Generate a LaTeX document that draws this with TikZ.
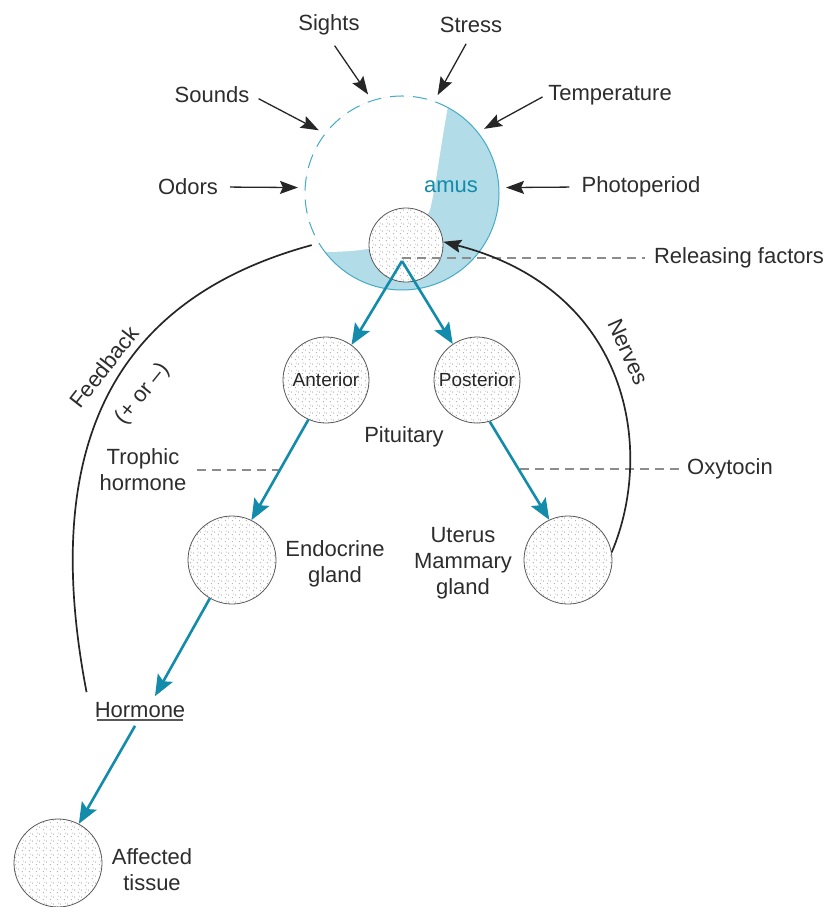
\documentclass[tikz,border=0pt]{standalone}
\usepackage{fontspec}
\setmainfont{Liberation Sans}
\usetikzlibrary{arrows.meta,patterns,patterns.meta,calc}
\definecolor{arrowblue}{RGB}{18,140,170}
\definecolor{crescent}{RGB}{178,220,231}
\definecolor{hypline}{RGB}{70,172,198}
\definecolor{txt}{RGB}{45,45,45}
\tikzdeclarepattern{
  name=stip,
  type=uncolored,
  bottom left={(0pt,0pt)},
  top right={(7pt,7pt)},
  tile size={(7pt,7pt)},
  code={
    \fill (1.5pt,1.5pt) circle (0.65pt);
    \fill (5pt,4.5pt) circle (0.65pt);
    \fill (2.5pt,5.5pt) circle (0.5pt);
  }
}
\begin{document}
\begin{tikzpicture}[x=1pt,y=-1pt,
 lbl/.style={font=\fontsize{22}{26}\selectfont, text=txt, align=center, inner sep=2pt},
 small/.style={font=\fontsize{19}{22}\selectfont, text=black!85},
 gland/.style={circle, draw=black!65, line width=0.8pt, preaction={fill=white}, pattern=stip, pattern color=black!40, minimum size=#1, inner sep=0pt},
 barrow/.style={-{Stealth[length=18pt,width=13pt,inset=3pt]}, line width=1.3pt, black!85},
 carrow/.style={-{Stealth[length=21pt,width=17pt,inset=4pt]}, line width=2.6pt, arrowblue},
 dashline/.style={black!45, line width=1.2pt, dash pattern=on 9pt off 6pt},
 curve/.style={line width=1.7pt, black!85},
]
\useasboundingbox (0,0) rectangle (828,907);
\fill[white] (0,0) rectangle (828,907);

% hypothalamus
\node[circle, minimum size=208pt, inner sep=0pt] (hyp) at (402,193) {};
\begin{scope}
\clip (402,193) circle (97pt);
\fill[crescent] (402,193) circle (97pt);
\fill[white] (452,80) -- (448,106) .. controls (440,150) and (436,185) .. (430,210)
  .. controls (412,245) and (372,252) .. (322,252) -- (290,252) -- (290,80) -- cycle;
\end{scope}
\draw[hypline, line width=1pt, dash pattern=on 14pt off 9pt] (hyp.center) ++(61.6:97pt) arc[start angle=61.6, end angle=217.5, radius=97pt];
\draw[hypline, line width=1pt] (hyp.center) ++(217.5:97pt) arc[start angle=217.5, end angle=421.6, radius=97pt];
\node[lbl, text=arrowblue] (amus) at (451,187) {amus};
\node[gland=74pt] (pit) at (406,245) {};
\coordinate (apex) at (402,261);

% glands
\node[gland=86pt, small] (ant) at (326,380) {Anterior};
\node[gland=86pt, small] (post) at (477,380) {Posterior};
\node[gland=88pt] (endo) at (232,560) {};
\node[gland=88pt] (ut) at (568,560) {};
\node[gland=88pt] (aff) at (58,863) {};

% labels
\node[lbl] (sights) at (329,25) {Sights};
\node[lbl] (stress) at (471,25) {Stress};
\node[lbl] (sounds) at (212,95) {Sounds};
\node[lbl] (temp) at (610,95) {Temperature};
\node[lbl] (odors) at (188,187) {Odors};
\node[lbl] (photo) at (641,187) {Photoperiod};
\node[lbl] (relf) at (739,258) {Releasing factors};
\node[lbl] (pitl) at (404,437) {Pituitary};
\node[lbl] (troph) at (143,470) {Trophic\\hormone};
\node[lbl] (oxy) at (730,469) {Oxytocin};
\node[lbl] (endol) at (335,564) {Endocrine\\gland};
\node[lbl] (utl) at (463,563) {Uterus\\Mammary\\gland};
\node[lbl] (horm) at (140,710) {Hormone};
\node[lbl] (affl) at (152,870) {Affected\\tissue};
\node[lbl, rotate=52] (fb) at (104,367) {Feedback};
\node[lbl, rotate=51] (pm) at (143,394) {(+ or –)};
\node[lbl, rotate=-66] (nerv) at (628,352) {Nerves};
\draw[line width=2.2pt, black!65] ($(horm.south west)+(4,0)$) -- ($(horm.south east)+(-4,0)$);

% dashed leaders
\coordinate (tropend) at (282,0);
\coordinate (oxystart) at (520,0);
\draw[dashline, shorten >=7pt] (relf.west -| apex) -- (relf.west);
\draw[dashline, shorten <=8pt] (troph.east) -- (troph.east -| tropend);
\draw[dashline, shorten >=6pt] (oxy.west -| oxystart) -- (oxy.west);

% stimulus arrows
\draw[barrow, shorten <=10pt] (sights.south) -- (hyp.109);
\draw[barrow, shorten <=10pt] (stress.south) -- (hyp.70);
\draw[barrow, shorten <=8pt] (sounds.east) -- (hyp.143);
\draw[barrow, shorten <=4pt] (temp.west) -- (hyp.38);
\draw[barrow, shorten <=10pt] (odors.east) -- (hyp.177);
\draw[barrow, shorten <=10pt] (photo.west) -- (hyp.3);

% blue pathway
\draw[carrow] (apex) -- (ant.54);
\draw[carrow] (apex) -- (post.124);
\draw[carrow] (ant.246) -- (endo.64);
\draw[carrow] (post.287) -- (ut.115);
\draw[carrow] (endo.240) -- ($(horm.north)+(15,-4)$);
\draw[carrow] ($(horm.south)+(-5,6)$) -- (aff.62);

% feedback and nerves
\draw[curve] ($(horm.north west)+(-6,-8)$) .. controls (40,450) and (110,300) .. (hyp.210);
\draw[curve, -{Stealth[length=18pt,width=13pt,inset=3pt]}] (ut.10) .. controls (655,450) and (630,290) .. (pit.5);
\end{tikzpicture}
\end{document}
